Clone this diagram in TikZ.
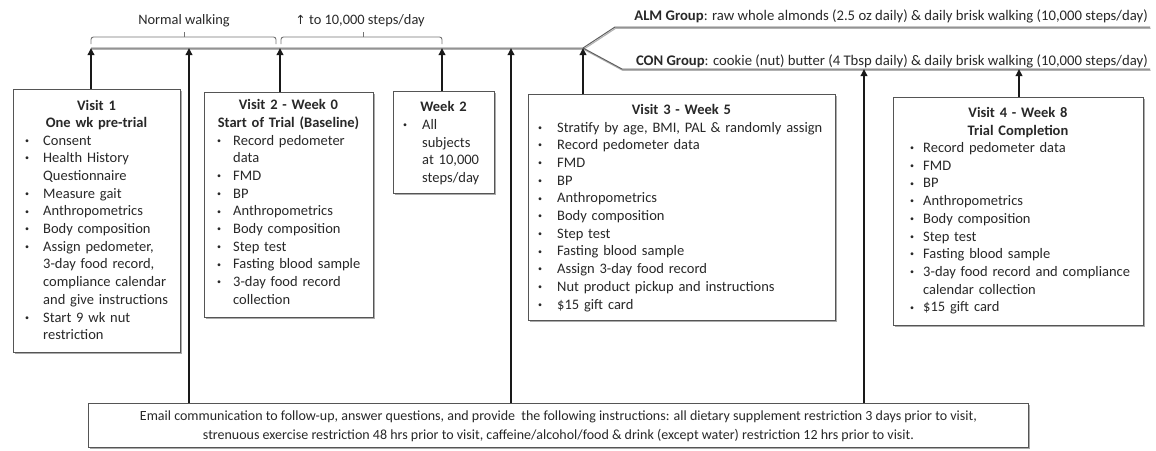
\documentclass[tikz,border=0pt]{standalone}
\usepackage{fontspec}
\setmainfont{Carlito}
\newfontfamily\dejavu{DejaVu Sans}
\usetikzlibrary{arrows.meta,shadows,calc}
\definecolor{txt}{RGB}{40,40,40}
\definecolor{frame}{RGB}{85,85,85}
\definecolor{tl}{RGB}{95,95,95}
\newlength\bw
\newcommand\bitem[1]{\noindent\hangindent=\bw\hangafter=1\makebox[\bw][l]{\raisebox{1.8pt}{\fontsize{8}{8}\selectfont\textbullet}}#1\par}
\newcommand\bodyfont{\fontsize{14.5}{17.7}\selectfont}
\begin{document}
\begin{tikzpicture}[x=1pt,y=-1pt,
  box/.style={draw=frame, line width=0.9pt, fill=white, inner sep=0pt, anchor=north west,
    drop shadow={shadow xshift=1.4pt, shadow yshift=-1.4pt, fill=black!55, opacity=0.6}},
  ttl/.style={text width=#1, align=center, inner sep=0pt, anchor=base, font=\bodyfont\bfseries, text=txt},
  lst/.style={text width=#1, align=left, inner sep=0pt, anchor=base west, font=\bodyfont, text=txt},
  tline/.style={draw=tl, line width=1pt},
  tshadow/.style={draw=black!30, line width=1.1pt, transform canvas={shift={(0.6pt,-1.3pt)}}},
  brace/.style={draw=black!55, line width=0.9pt, rounded corners=2.5pt},
  arr/.style={draw=black!90, line width=1.8pt, -{Triangle[length=7pt,width=6.5pt]}},
  lbl/.style={inner sep=0pt, anchor=base, font=\fontsize{14.4}{17}\selectfont, text=txt},
  grp/.style={inner sep=0pt, anchor=base east, font=\fontsize{14.7}{17}\selectfont, text=txt}
]
\useasboundingbox (0,0) rectangle (1156,450);

% timeline
\coordinate (tl) at (91,48);
\coordinate (br) at (583,48);
\coordinate (up1) at (615,27);
\coordinate (up2) at (1150,27);
\coordinate (lo1) at (622,69);
\coordinate (lo2) at (1150,69);
\draw[tshadow] (tl) -- (br) -- (up1) -- (up2);
\draw[tshadow] (br) -- (lo1) -- (lo2);
\draw[tline] (tl) -- (br) -- (up1) -- (up2);
\draw[tline] (br) -- (lo1) -- (lo2);

% braces and labels
\draw[brace] (91,44) -- (91,37) -- (276,37) -- (276,44);
\draw[draw=black!55, line width=0.9pt] (184,37) -- (184,32);
\draw[brace] (281,44) -- (281,37) -- (442,37) -- (442,44);
\draw[draw=black!55, line width=0.9pt] (363,37) -- (363,32);
\node[lbl] (nwalk) at (184,24) {Normal walking};
\node[lbl] (upwalk) at (360,24) {{\dejavu\fontsize{12.5}{14}\selectfont\char"2191} to 10,000 steps/day};

% group labels
\node[grp] (alm) at (1148,20) {\textbf{ALM Group}: raw whole almonds (2.5 oz daily) \& daily brisk walking (10,000 steps/day)};
\node[grp] (con) at (1148,65) {\textbf{CON Group}: cookie (nut) butter (4 Tbsp daily) \& daily brisk walking (10,000 steps/day)};

% Visit 1
\node[box, minimum width=167pt, minimum height=263pt] (v1) at (13,89) {};
\node[ttl=167pt] (v1t) at (96.5,110) {Visit 1\\One wk pre-trial};
\node[lst=150pt] (v1l) at (25,145) {\setlength\bw{18pt}%
\bitem{Consent}
\bitem{Health History\newline Questionnaire}
\bitem{Measure gait}
\bitem{Anthropometrics}
\bitem{Body composition}
\bitem{Assign pedometer,\newline 3-day food record,\newline compliance calendar\newline and give instructions}
\bitem{Start 9 wk nut\newline restriction}};

% Visit 2
\node[box, minimum width=169pt, minimum height=225pt] (v2) at (204,92) {};
\node[ttl=169pt] (v2t) at (288.5,109.5) {Visit 2 - Week 0\\Start of Trial (Baseline)};
\node[lst=150pt] (v2l) at (217,145) {\setlength\bw{16pt}%
\bitem{Record pedometer\newline data}
\bitem{FMD}
\bitem{BP}
\bitem{Anthropometrics}
\bitem{Body composition}
\bitem{Step test}
\bitem{Fasting blood sample}
\bitem{3-day food record\newline collection}};

% Week 2
\node[box, minimum width=101pt, minimum height=102pt] (w2) at (393,91) {};
\node[ttl=101pt] (w2t) at (443.5,111.5) {Week 2};
\node[lst=88pt] (w2l) at (403,129.5) {\setlength\bw{19pt}%
\bitem{All\newline subjects\newline at 10,000\newline steps/day}};

% Visit 3
\node[box, minimum width=307pt, minimum height=226pt] (v3) at (528,94) {};
\node[ttl=307pt] (v3t) at (681.5,114.5) {Visit 3 - Week 5};
\node[lst=290pt] (v3l) at (538,132) {\setlength\bw{19pt}%
\bitem{Stratify by age, BMI, PAL \& randomly assign}
\bitem{Record pedometer data}
\bitem{FMD}
\bitem{BP}
\bitem{Anthropometrics}
\bitem{Body composition}
\bitem{Step test}
\bitem{Fasting blood sample}
\bitem{Assign 3-day food record}
\bitem{Nut product pickup and instructions}
\bitem{\$15 gift card}};

% Visit 4
\node[box, minimum width=250pt, minimum height=228pt] (v4) at (893,97) {};
\node[ttl=250pt] (v4t) at (1018,117.5) {Visit 4 - Week 8\\Trial Completion};
\node[lst=230pt] (v4l) at (910,152.5) {\setlength\bw{13pt}%
\bitem{Record pedometer data}
\bitem{FMD}
\bitem{BP}
\bitem{Anthropometrics}
\bitem{Body composition}
\bitem{Step test}
\bitem{Fasting blood sample}
\bitem{3-day food record and compliance\newline calendar collection}
\bitem{\$15 gift card}};

% Email box
\node[box, minimum width=940pt, minimum height=44pt] (em) at (88,403) {};
\node[inner sep=0pt, align=center, font=\fontsize{14}{18.5}\selectfont, text=txt] (emt) at ($(em.center)+(0,1)$)
 {Email communication to follow-up, answer questions, and provide\ \ the following instructions: all dietary supplement restriction 3 days prior to visit,\\
  strenuous exercise restriction 48 hrs prior to visit, caffeine/alcohol/food \& drink (except water) restriction 12 hrs prior to visit.};

% arrows
\coordinate (a1) at ($(v1.north west)+(78,0)$);
\coordinate (a2) at ($(v2.north west)+(76,0)$);
\coordinate (a3) at ($(w2.north west)+(49,0)$);
\coordinate (a4) at ($(v3.north west)+(55,0)$);
\coordinate (a5) at ($(v4.north west)+(126,0)$);
\coordinate (e1) at ($(em.north west)+(101,0)$);
\coordinate (e2) at ($(em.north west)+(423,0)$);
\coordinate (e3) at ($(em.north west)+(776,0)$);
\draw[arr] (a1) -- (a1 |- tl);
\draw[arr] (a2) -- (a2 |- tl);
\draw[arr] (a3) -- (a3 |- tl);
\draw[arr] (a4) -- (a4 |- tl);
\draw[arr] (a5) -- (a5 |- lo1);
\draw[arr] (e1) -- (e1 |- tl);
\draw[arr] (e2) -- (e2 |- tl);
\draw[arr] (e3) -- (e3 |- lo1);
\end{tikzpicture}
\end{document}
